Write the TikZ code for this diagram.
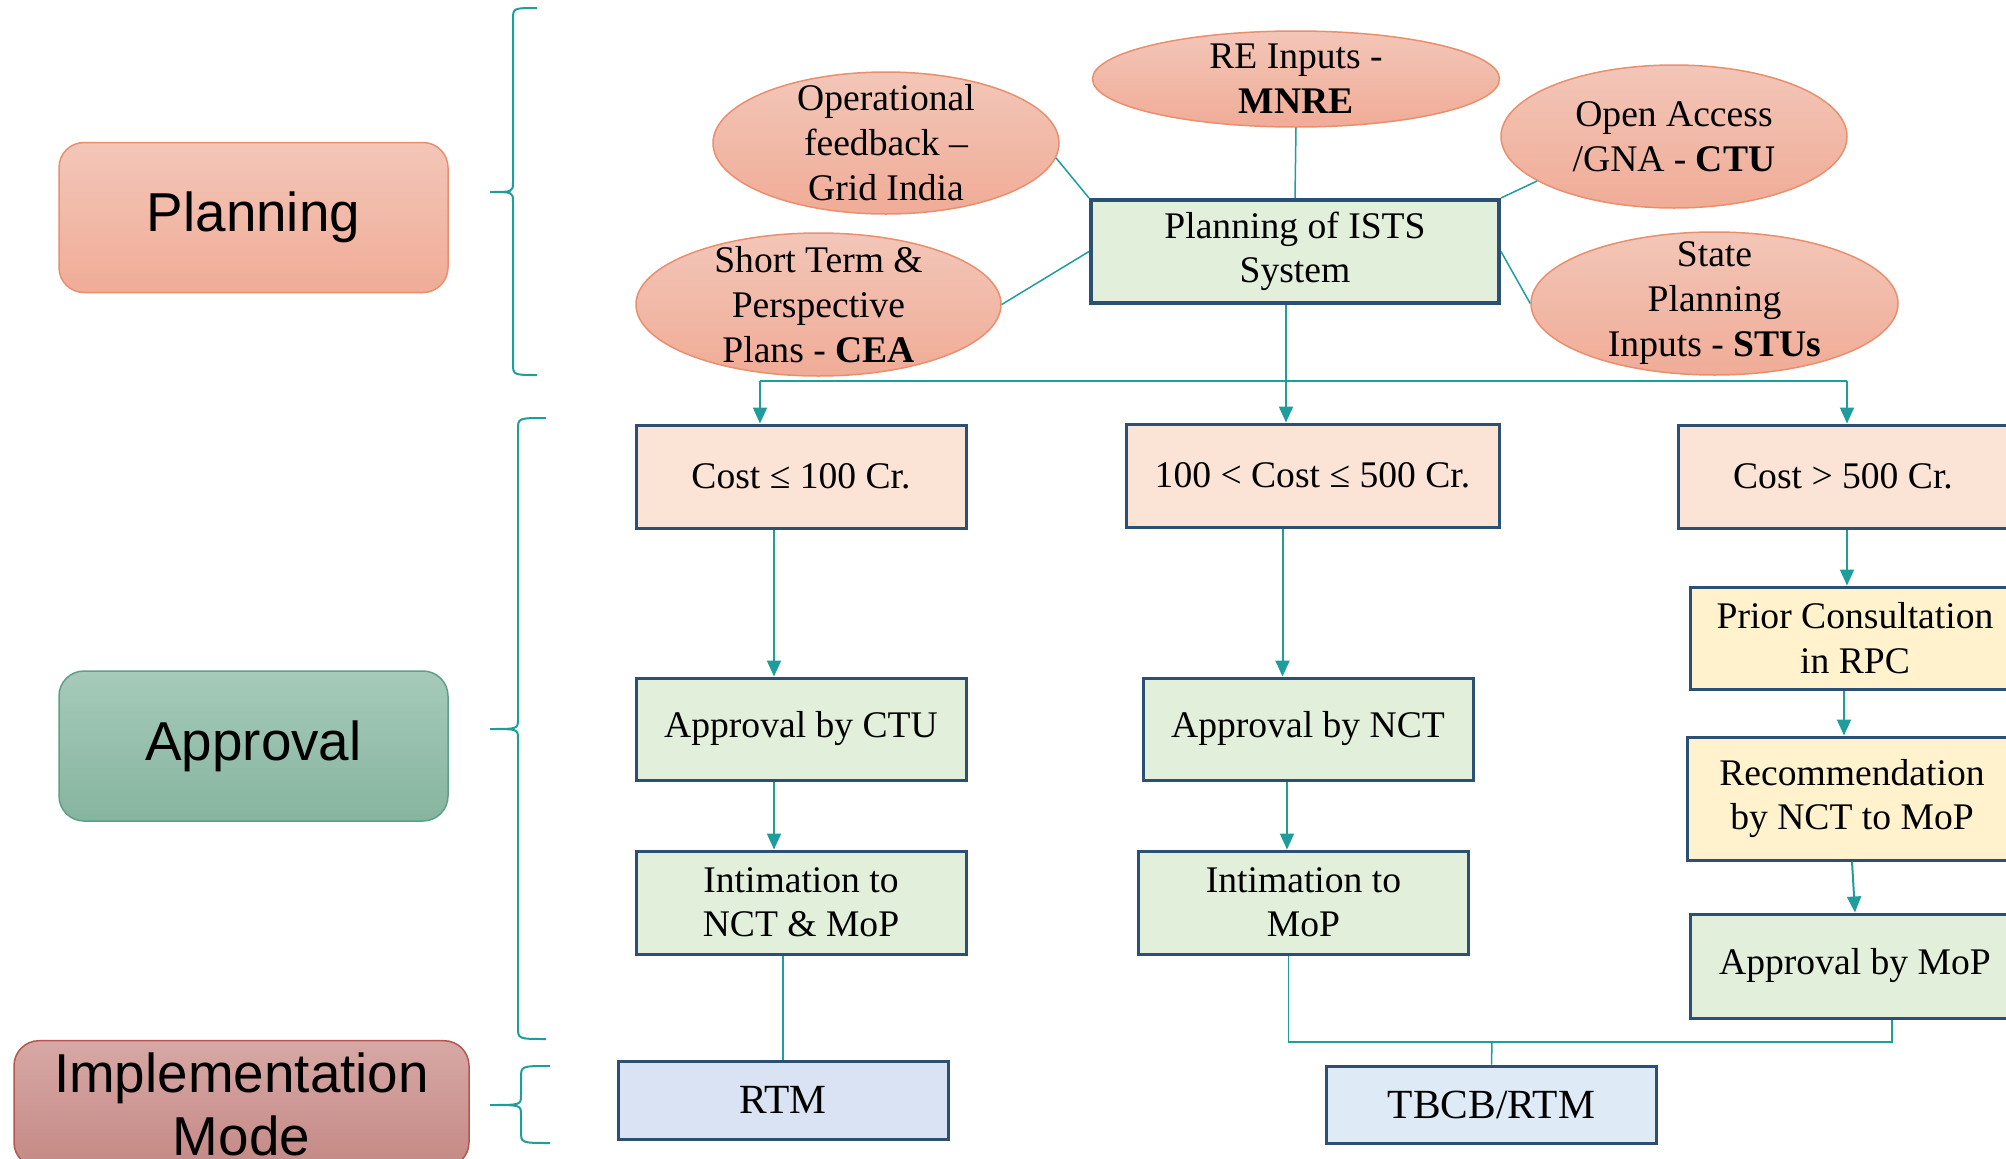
\documentclass[tikz,border=0pt]{standalone}
\usepackage{fontspec}
\setmainfont{Liberation Serif}
\newfontfamily\labelfont{Liberation Sans}
\usepackage{tikz}
\usetikzlibrary{shapes, arrows.meta, positioning}
\definecolor{linkteal}{HTML}{1F9D9D}
\definecolor{boxblue}{HTML}{2C4F74}
\definecolor{salmontop}{HTML}{F3C6B8}
\definecolor{salmonbot}{HTML}{F0AC97}
\definecolor{salmonline}{HTML}{EA8F6E}
\definecolor{greentop}{HTML}{A6CABA}
\definecolor{greenbot}{HTML}{86B59F}
\definecolor{greenline}{HTML}{5E9F88}
\definecolor{rosetop}{HTML}{D7A8A5}
\definecolor{rosebot}{HTML}{C48985}
\definecolor{roseline}{HTML}{B4564E}
\definecolor{costfill}{HTML}{FBE4D6}
\definecolor{okfill}{HTML}{E2EFDA}
\definecolor{mopfill}{HTML}{FFF2CC}
\definecolor{rtmfill}{HTML}{DAE3F3}
\definecolor{tbcbfill}{HTML}{DEEBF7}
\newcommand{\sidebrace}[6]{\draw [bracket] (#1,#4) .. controls (#2,#4) .. (#2,#4+12) -- (#2,#5-10) .. controls (#2,#5) .. (#3,#5) .. controls (#2,#5) .. (#2,#5+10) -- (#2,#6-12) .. controls (#2,#6) .. (#1,#6);}
\tikzstyle{phase} = [rectangle, rounded corners=2.5mm, minimum width=38.9mm, minimum height=15mm, align=center, line width=0.15mm, font=\labelfont\fontsize{15.6}{17.9}\selectfont]
\tikzstyle{bubble} = [ellipse, draw=salmonline, top color=salmontop, bottom color=salmonbot, line width=0.15mm, inner sep=0pt]
\tikzstyle{bubbletext} = [align=center, inner sep=0pt, font=\fontsize{10.7}{12.8}\selectfont]
\tikzstyle{stage} = [rectangle, draw=boxblue, line width=0.3mm, minimum width=33mm, minimum height=10.3mm, align=center, font=\fontsize{10.7}{12.6}\selectfont]
\tikzstyle{flow} = [draw=linkteal, line width=0.2mm, -{Triangle[width=1.4mm,length=1.6mm]}]
\tikzstyle{link} = [draw=linkteal, line width=0.15mm]
\tikzstyle{bracket} = [draw=linkteal, line width=0.2mm]

\begin{document}
\begin{tikzpicture}[x=0.1mm, y=-0.1mm]
	\useasboundingbox (0,0) rectangle (2006,1159);
	\clip (0,0) rectangle (2006,1159);
	\node [phase, draw=salmonline, top color=salmontop, bottom color=salmonbot] (planning) at (253.5,217.5) {Planning};
	\node [phase, draw=greenline, top color=greentop, bottom color=greenbot] (approval) at (253.5,746) {Approval};
	\node [phase, draw=roseline, top color=rosetop, bottom color=rosebot, minimum width=45.5mm, minimum height=12.4mm] (mode) at (241.5,1104) {Implementation\\Mode};
	\sidebrace{537}{513}{490}{8}{192}{375}
	\sidebrace{546}{518}{490}{418}{729}{1039}
	\sidebrace{550}{521}{490}{1066}{1105}{1143}

	\node [stage, fill=okfill, line width=0.4mm, minimum width=40.8mm] (ists) at (1295,251.5) {Planning of ISTS\\System};
	\node [bubble, minimum width=40.7mm, minimum height=9.6mm, label={[bubbletext]center:RE Inputs -\\\textbf{MNRE}}] (mnre) at (1296,79) {};
	\node [bubble, minimum width=34.6mm, minimum height=14.2mm, label={[bubbletext]center:Operational\\feedback –\\Grid India}] (grid) at (886,143) {};
	\node [bubble, minimum width=34.6mm, minimum height=14.3mm, label={[bubbletext]center:Open Access\\/GNA - \textbf{CTU}}] (ctu) at (1674,136.5) {};
	\node [bubble, minimum width=36.5mm, minimum height=14.3mm, label={[bubbletext]center:Short Term \&\\Perspective\\Plans - \textbf{CEA}}] (cea) at (818.5,304.5) {};
	\node [bubble, minimum width=36.7mm, minimum height=14.3mm, label={[bubbletext]center:State\\Planning\\Inputs - \textbf{STUs}}] (stu) at (1714.5,303.5) {};
	\draw [link] (grid.-5) -- (ists.north west);
	\draw [link] (mnre.south) -- (ists.north);
	\draw [link] (ctu.198) -- (ists.north east);
	\draw [link] (cea.east) -- (ists.west);
	\draw [link] (ists.east) -- (stu.west);

	\node [stage, fill=costfill] (low) at (801,476.5) {Cost ≤ 100 Cr.};
	\node [stage, fill=costfill, minimum width=37.3mm] (mid) at (1312.5,475.5) {100 < Cost ≤ 500 Cr.};
	\node [stage, fill=costfill] (high) at (1843,476.5) {Cost > 500 Cr.};
	\coordinate (split) at (1286,381);
	\coordinate (lowin) at (760,381);
	\coordinate (highin) at (1847,381);
	\draw [flow] (ists.south -| split) -- (split |- mid.north);
	\draw [link, line width=0.2mm] (lowin) -- (highin);
	\draw [flow] (lowin) -- (lowin |- low.north);
	\draw [flow] (highin) -- (highin |- high.north);

	\node [stage, fill=okfill, minimum height=10.2mm] (byctu) at (801,729) {Approval by CTU};
	\node [stage, fill=okfill] (toncmop) at (801,902.5) {Intimation to\\NCT \& MoP};
	\node [stage, fill=rtmfill, minimum height=7.8mm, font=\fontsize{11.8}{14}\selectfont] (rtm) at (783,1100) {RTM};
	\draw [flow] ([xshift=-2.7mm]low.south) -- ([xshift=-2.7mm]byctu.north);
	\draw [flow] ([xshift=-2.7mm]byctu.south) -- ([xshift=-2.7mm]toncmop.north);
	\draw [link] (toncmop.south -| rtm.north) -- (rtm.north);

	\node [stage, fill=okfill, minimum height=10.2mm] (bynct) at (1308,729) {Approval by NCT};
	\node [stage, fill=okfill] (tomop) at (1303.5,902.5) {Intimation to\\MoP};
	\node [stage, fill=tbcbfill, minimum height=7.7mm, font=\fontsize{11.8}{14}\selectfont] (tbcb) at (1491.5,1104.5) {TBCB/RTM};
	\draw [flow] ([xshift=-3mm]mid.south) -- ([xshift=-3mm]mid.south |- bynct.north);
	\draw [flow] ([xshift=-2.1mm]bynct.south) -- ([xshift=-2.1mm]bynct.south |- tomop.north);

	\node [stage, fill=mopfill, minimum height=10.2mm] (rpc) at (1855,638) {Prior Consultation\\in RPC};
	\node [stage, fill=mopfill, minimum height=12.3mm] (rec) at (1852,798.5) {Recommendation\\by NCT to MoP};
	\node [stage, fill=okfill, minimum height=10.4mm] (bymop) at (1855,966) {Approval by MoP};
	\draw [flow] (high.south -| highin) -- (highin |- rpc.north);
	\draw [flow] ([xshift=-1.1mm]rpc.south) -- ([xshift=-1.1mm]rpc.south |- rec.north);
	\draw [flow] (rec.south) -- (bymop.north);

	\coordinate (merge) at (1492,1042);
	\draw [link] ([xshift=-1.5mm]tomop.south) |- ([xshift=3.7mm]bymop.south |- merge) -- ([xshift=3.7mm]bymop.south);
	\draw [link] (merge) -- (tbcb.north);
\end{tikzpicture}
\end{document}
